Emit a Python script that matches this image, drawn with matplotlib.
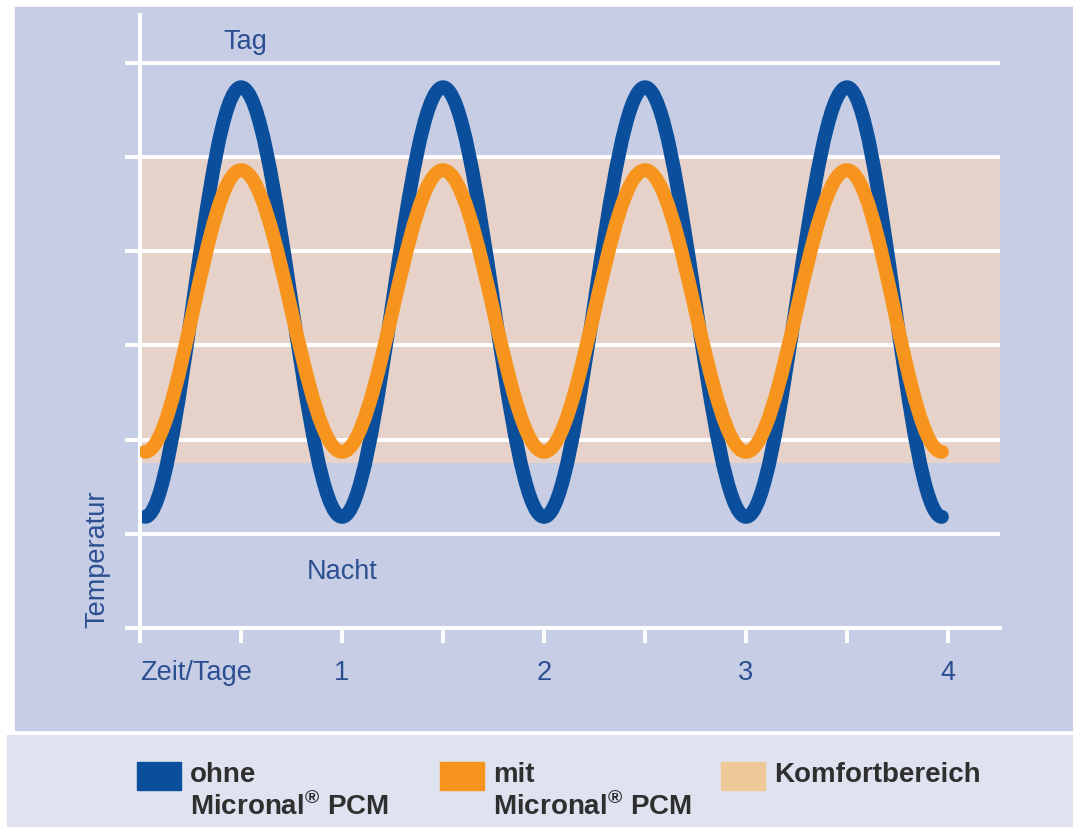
import numpy as np
import matplotlib.pyplot as plt
from matplotlib.path import Path
from matplotlib.patches import PathPatch, Rectangle

# values (y in grid units, 0 = bottom axis, 6 = top line)
t_ext = [0.025, 0.5, 1.0, 1.5, 2.0, 2.5, 3.0, 3.5, 3.97]
ohne = [1.18, 5.74, 1.18, 5.74, 1.18, 5.74, 1.18, 5.74, 1.18]
mit = [1.87, 4.86, 1.87, 4.86, 1.87, 4.86, 1.87, 4.86, 1.87]
komfort = (1.75, 5.0)
x_ticks = [0, 0.5, 1, 1.5, 2, 2.5, 3, 3.5, 4]
x_labels = ['Zeit/Tage', '', '1', '', '2', '', '3', '', '4']
y_grid = [0, 1, 2, 3, 4, 5, 6]

W, H = 1073, 827
panel = '#c6cde5'
blue = '#0b4f9c'
orange = '#f7941d'
txt = '#2c4f92'

plt.rcParams['font.family'] = ['Liberation Sans', 'DejaVu Sans']

fig = plt.figure(figsize=(W / 100, H / 100), dpi=100)
fig.patch.set_facecolor('white')
fig.add_artist(Rectangle((15 / W, 1 - 730 / H), (W - 15) / W, 723 / H,
                         transform=fig.transFigure, color=panel, zorder=0))
fig.add_artist(Rectangle((7 / W, 0), (W - 7) / W, 1 - 735 / H,
                         transform=fig.transFigure, color='#dfe3f0', zorder=0))

# axes: t=0 at x=140px, 202 px per day; y=0 at 628px, 94.2 px per unit
ax = fig.add_axes([140 / W, 1 - 628 / H, 860 / W, 613 / H])
ax.set_xlim(0, 860 / 202)
ax.set_ylim(0, 613 / 94.2)
ax.patch.set_alpha(0)

ax.axhspan(komfort[0], komfort[1], color='#e6d2c9', zorder=0.5, lw=0)
for y in y_grid[1:]:
    ax.axhline(y, color='white', lw=2.8, zorder=1)


def smooth_wave(ts, ys):
    k = 1 - 2 / np.pi
    verts = [(ts[0], ys[0])]
    codes = [Path.MOVETO]
    for i in range(len(ts) - 1):
        d = ts[i + 1] - ts[i]
        verts += [(ts[i] + k * d, ys[i]), (ts[i + 1] - k * d, ys[i + 1]), (ts[i + 1], ys[i + 1])]
        codes += [Path.CURVE4] * 3
    return Path(verts, codes)


ax.add_patch(PathPatch(smooth_wave(t_ext, ohne), fill=False, ec=blue, lw=10, zorder=2,
                       capstyle='round'))
ax.add_patch(PathPatch(smooth_wave(t_ext, mit), fill=False, ec=orange, lw=10, zorder=3,
                       capstyle='round'))

for s in ['top', 'right']:
    ax.spines[s].set_visible(False)
for s in ['left', 'bottom']:
    ax.spines[s].set_color('white')
    ax.spines[s].set_linewidth(2.8)

ax.set_yticks(y_grid)
ax.set_yticklabels([])
ax.tick_params(axis='y', length=11, width=2.8, color='white', direction='out')
ax.set_xticks(x_ticks)
ax.set_xticklabels(x_labels, fontsize=19.5, color=txt)
ax.tick_params(axis='x', length=11, width=2.8, color='white', direction='out', pad=12)
ax.get_xticklabels()[0].set_horizontalalignment('left')

ax.text(0.52, 6.22, 'Tag', fontsize=19.5, color=txt, ha='center', va='center')
ax.text(1.0, 0.59, 'Nacht', fontsize=19.5, color=txt, ha='center', va='center')
fig.text(97 / W, 1 - 628 / H, 'Temperatur', fontsize=19.5, color=txt, rotation=90,
         ha='center', va='bottom')

# legend
items = [(137, blue, ['ohne', 'Micronal$^{\\mathregular{®}}$ PCM']),
         (440, orange, ['mit', 'Micronal$^{\\mathregular{®}}$ PCM']),
         (721, '#efc898', ['Komfortbereich'])]
for x0, c, lines in items:
    fig.add_artist(Rectangle((x0 / W, 1 - 790 / H), 44 / W, 28 / H,
                             transform=fig.transFigure, color=c, zorder=1))
    for j, line in enumerate(lines):
        fig.text((x0 + 53) / W, 1 - (775 + 31 * j) / H, line, fontsize=20,
                 fontweight='bold', color='#2f2f2f', ha='left', va='center')

fig.savefig('out.png', dpi=100, facecolor=fig.get_facecolor())
